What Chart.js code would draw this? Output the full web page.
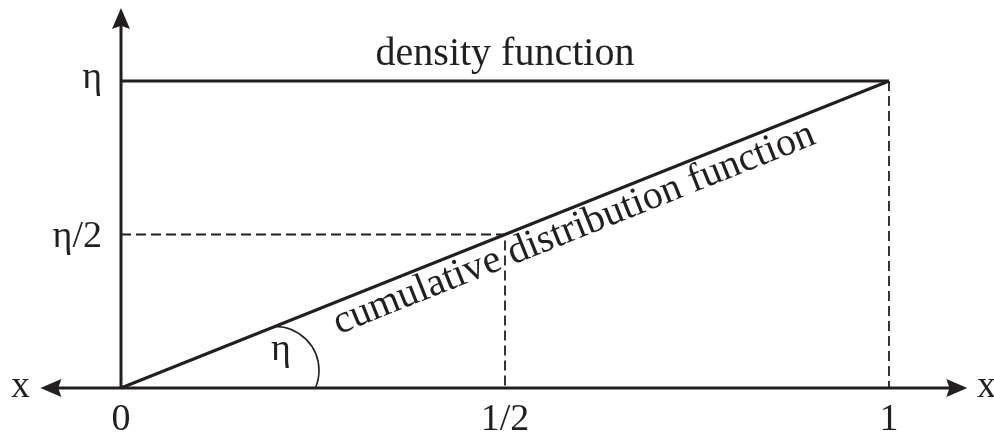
<!DOCTYPE html>
<html lang="en">
<head>
  <meta charset="UTF-8" />
  <title>Uniform density and cumulative distribution</title>
  <script src="https://cdn.jsdelivr.net/npm/chart.js"></script>
  <style>
    html, body { margin: 0; padding: 0; background: #fff; }
    #wrap { width: 994px; height: 436px; position: relative; }
  </style>
</head>
<body>
  <div id="wrap"><canvas id="cdfChart"></canvas></div>

  <script>
    // data, in axis units (x: 0..1, y: 0..eta, eta = 1)
    const densityX = [0, 1];
    const densityY = [1, 1];
    const cdfX = [0, 1];
    const cdfY = [0, 1];
    const halfGuideX = [0, 0.5, 0.5];
    const halfGuideY = [0.5, 0.5, 0];
    const oneGuideX = [1, 1];
    const oneGuideY = [1, 0];

    const xTickValues = [0, 0.5, 1];
    const xTickLabels = ['0', '1/2', '1'];
    const yTickValues = [0.5, 1];
    const yTickLabels = ['η/2', 'η'];

    const xAxisRange = [-0.105, 1.102];
    const yAxisTop = 1.238;

    const ink = '#231f20';
    const font = '38px "Liberation Serif", "DejaVu Serif", serif';
    const bigFont = '40px "Liberation Serif", "DejaVu Serif", serif';

    const pts = (xs, ys) => xs.map((x, i) => ({ x, y: ys[i] }));

    function arrowHead(ctx, x, y, dir) {
      // dir: angle the arrow points to
      const len = 21, half = 9;
      ctx.save();
      ctx.translate(x, y);
      ctx.rotate(dir);
      ctx.beginPath();
      ctx.moveTo(0, 0);
      ctx.lineTo(-len, -half);
      ctx.lineTo(-len * 0.85, 0);
      ctx.lineTo(-len, half);
      ctx.closePath();
      ctx.fill();
      ctx.restore();
    }

    const figurePlugin = {
      id: 'figure',
      afterDatasetsDraw(chart) {
        const ctx = chart.ctx;
        const xs = chart.scales.x, ys = chart.scales.y;
        const ox = xs.getPixelForValue(0), oy = ys.getPixelForValue(0);
        ctx.save();
        ctx.strokeStyle = ink;
        ctx.fillStyle = ink;
        ctx.lineWidth = 3;

        // x axis, arrows both ways
        const xl = xs.getPixelForValue(xAxisRange[0]);
        const xr = xs.getPixelForValue(xAxisRange[1]);
        ctx.beginPath();
        ctx.moveTo(xl + 10, oy);
        ctx.lineTo(xr - 10, oy);
        ctx.stroke();
        arrowHead(ctx, xl, oy, Math.PI);
        arrowHead(ctx, xr, oy, 0);

        // y axis
        const yt = ys.getPixelForValue(yAxisTop);
        ctx.beginPath();
        ctx.moveTo(ox, oy + 1);
        ctx.lineTo(ox, yt + 10);
        ctx.stroke();
        arrowHead(ctx, ox, yt, -Math.PI / 2);

        // angle arc
        const px1 = xs.getPixelForValue(1), py1 = ys.getPixelForValue(1);
        const slope = Math.atan2(oy - py1, px1 - ox);
        const meetX = ox + 154;
        const meetY = oy - 154 * Math.tan(slope);
        const r = 44;
        ctx.lineWidth = 1.6;
        ctx.beginPath();
        ctx.arc(meetX, meetY + r, r, -Math.PI / 2, Math.asin((oy - meetY - r) / r));
        ctx.stroke();

        // labels
        ctx.font = font;
        ctx.textAlign = 'center';
        ctx.textBaseline = 'alphabetic';
        xTickValues.forEach((v, i) => {
          ctx.fillText(xTickLabels[i], xs.getPixelForValue(v), oy + 42);
        });
        ctx.textAlign = 'right';
        yTickValues.forEach((v, i) => {
          ctx.fillText(yTickLabels[i], ox - 19, ys.getPixelForValue(v) + (i === 0 ? 12 : 7));
        });
        ctx.textAlign = 'left';
        ctx.fillText('x', 11, oy + 9);
        ctx.fillText('x', 977, oy + 9);
        ctx.textAlign = 'center';
        ctx.fillText('η', meetX + 6, oy - 28);
        ctx.font = bigFont;
        ctx.fillText('density function', (ox + px1) / 2, py1 - 16);

        // label along the cdf line
        ctx.translate(ox, oy);
        ctx.rotate(-slope);
        ctx.textAlign = 'left';
        ctx.fillText('cumulative distribution function', 222, 31);
        ctx.restore();
      }
    };

    const solid = { borderColor: ink, borderWidth: 3, pointRadius: 0, fill: false, clip: false, tension: 0 };
    const dashed = { borderColor: ink, borderWidth: 1.8, borderDash: [10, 5], pointRadius: 0, fill: false, clip: false, tension: 0 };

    new Chart(document.getElementById('cdfChart'), {
      type: 'line',
      data: {
        datasets: [
          { label: 'half guide', data: pts(halfGuideX, halfGuideY), ...dashed },
          { label: 'one guide', data: pts(oneGuideX, oneGuideY), ...dashed },
          { label: 'density function', data: pts(densityX, densityY), ...solid },
          { label: 'cumulative distribution function', data: pts(cdfX, cdfY), ...solid }
        ]
      },
      options: {
        responsive: true,
        maintainAspectRatio: false,
        animation: false,
        layout: { padding: { left: 121, right: 105, top: 81, bottom: 48 } },
        plugins: { legend: { display: false }, tooltip: { enabled: false } },
        scales: {
          x: { type: 'linear', min: 0, max: 1, display: false },
          y: { type: 'linear', min: 0, max: 1, display: false }
        }
      },
      plugins: [figurePlugin]
    });
  </script>
</body>
</html>
